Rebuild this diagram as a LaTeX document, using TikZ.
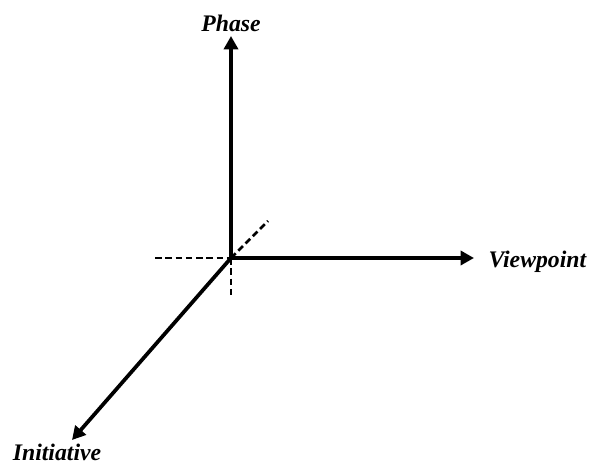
\documentclass[tikz,border=0pt]{standalone}
\usepackage{fontspec}
\setmainfont{Liberation Serif}
\usetikzlibrary{arrows.meta,positioning}
\tikzset{
  axisline/.style={
    -{Triangle[length=10pt,width=10.5pt]},
    line width=2.8pt
  },
  guideline/.style={
    line width=2pt,
    dash pattern=on 5pt off 2.7pt
  },
  axislabel/.style={
    font=\fontsize{17.8}{20}\selectfont\bfseries\itshape,
    inner sep=1pt
  }
}
\begin{document}
\begin{tikzpicture}[x=0.75pt,y=-0.75pt]
  \useasboundingbox (0,0) rectangle (590,466);
  \coordinate (o) at (231,258);
  \coordinate (phasetip) at (231,36);
  \coordinate (viewtip) at (474,258);
  \coordinate (inittip) at (72,440);
  \coordinate (guideleft) at (155,258);
  \coordinate (guidedown) at (231,296);
  \coordinate (guidediag) at (268,221);

  \node[axislabel] (phase) at (231,23) {Phase};
  \node[axislabel, anchor=west] (view) at (487,262) {Viewpoint};
  \node[axislabel, anchor=base] (init) at (57,461) {Initiative};

  \draw[guideline] (guideleft) -- (o);
  \draw[guideline] (o) -- (guidedown);
  \draw[guideline] (o) -- (guidediag);

  \draw[axisline] (o) -- (phasetip);
  \draw[axisline] (o) -- (viewtip);
  \draw[axisline] (o) -- (inittip);
\end{tikzpicture}
\end{document}
